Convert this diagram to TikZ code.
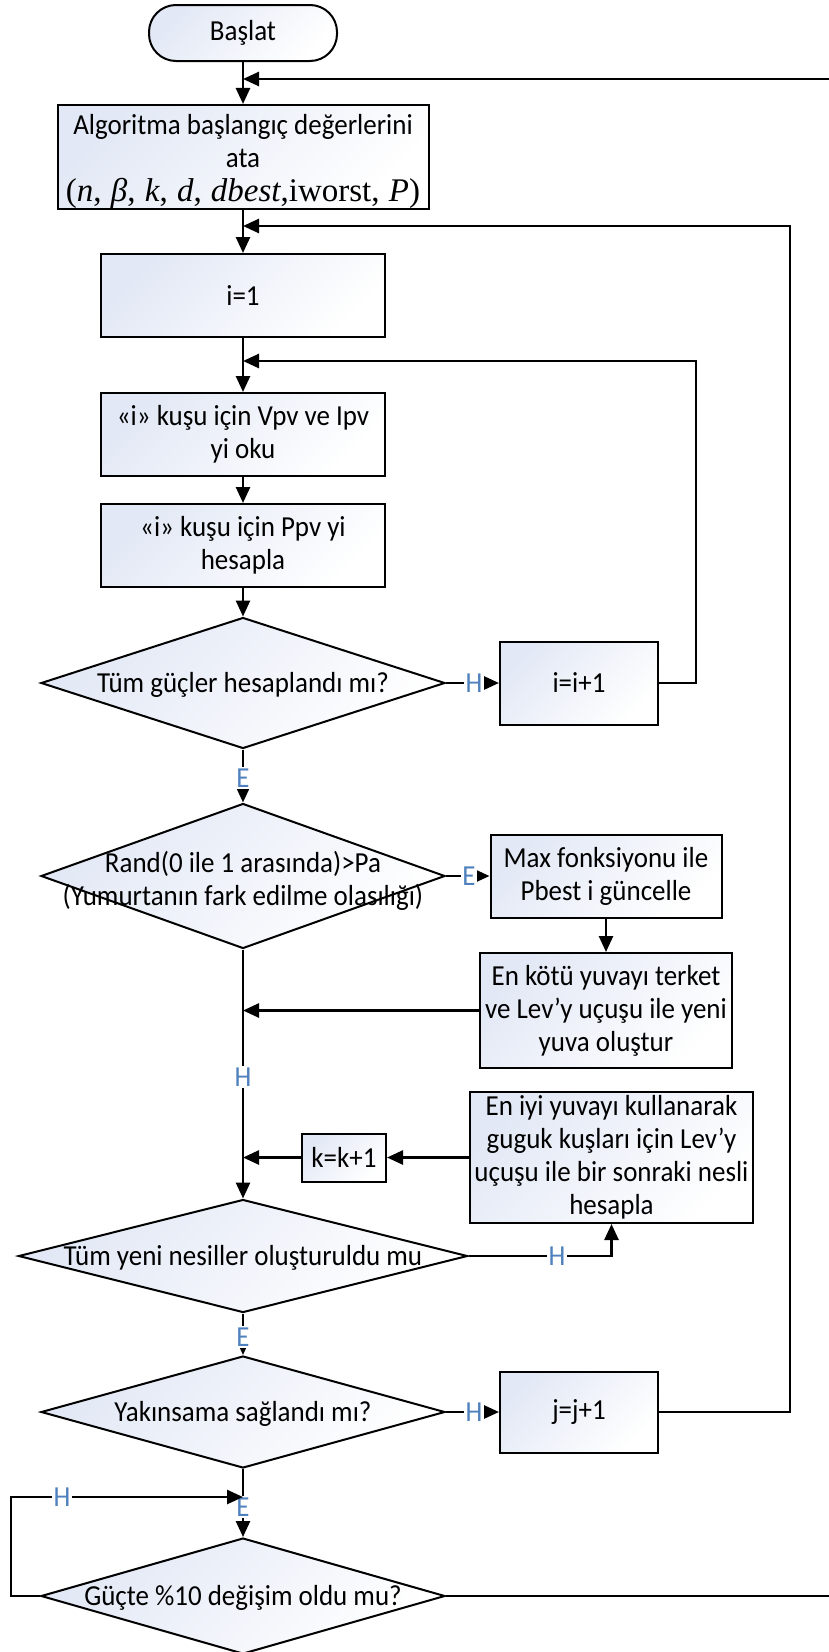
\documentclass[tikz,border=0pt]{standalone}
\usepackage{fontspec}
\setmainfont{Carlito}[FakeStretch=0.93]
\newfontfamily\tms{Liberation Serif}
\usetikzlibrary{arrows.meta,shapes.geometric}
\definecolor{labblue}{RGB}{79,129,189}
\definecolor{boxtint}{RGB}{226,232,245}
\newcommand{\msep}{\hspace{0.28em}}

\begin{document}
\begin{tikzpicture}[x=1pt,y=-1pt,
  every node/.style={font=\fontsize{29}{33}\selectfont},
  tint/.style={top color=boxtint,bottom color=white,shading angle=45},
  proc/.style={draw,line width=2pt,tint,align=center,inner sep=0pt},
  term/.style={proc,rounded corners=27pt},
  dia/.style={draw,line width=2pt,tint,diamond,inner sep=0pt},
  dtext/.style={align=center,inner sep=0pt,yshift=-2pt},
  conn/.style={line width=2.6pt,-{Triangle[length=16pt,width=14pt]}},
  lab/.style={text=labblue,fill=white,inner sep=1.5pt},
]
\useasboundingbox (0,0) rectangle (828,1652);

% ---- main column ----
\node[term,minimum width=188pt,minimum height=56pt] (start) at (243,33) {Başlat};
\node[proc,minimum width=371pt,minimum height=100pt] (init) at (243,157)
  {\rule{0pt}{30pt}Algoritma başlangıç değerlerini\\ata\\[1pt]
   {\tms\fontsize{33}{33}\selectfont(\textit{n},\msep\textit{β},\msep\textit{k},\msep\textit{d},\msep\textit{dbest},iworst,\msep\textit{P})}};
\node[proc,minimum width=284pt,minimum height=83pt] (i1) at (243,295.5) {i=1};
\node[proc,minimum width=284pt,minimum height=83pt] (read) at (243,434.5) {«i» kuşu için Vpv ve Ipv\\yi oku};
\node[proc,minimum width=284pt,minimum height=83pt] (calc) at (243,545.5) {«i» kuşu için Ppv yi\\hesapla};
\node[dia,minimum width=404pt,minimum height=131pt,
  label={[dtext]center:Tüm güçler hesaplandı mı?}] (d1) at (243,683) {};
\node[dia,minimum width=404pt,minimum height=145pt,
  label={[dtext,yshift=-3pt]center:{Rand(0 ile 1 arasında)>Pa\\(Yumurtanın fark edilme olasılığı)}}] (d2) at (243,876) {};
\node[dia,minimum width=449pt,minimum height=113pt,
  label={[dtext]center:Tüm yeni nesiller oluşturuldu mu}] (d3) at (243,1256) {};
\node[dia,minimum width=404pt,minimum height=112pt,
  label={[dtext]center:Yakınsama sağlandı mı?}] (d4) at (243,1412) {};
\node[dia,minimum width=404pt,minimum height=116pt,
  label={[dtext]center:Güçte \%10 değişim oldu mu?}] (d5) at (243,1596) {};

% ---- side boxes ----
\node[proc,minimum width=158pt,minimum height=83pt] (inci) at (579,683) {i=i+1};
\node[proc,minimum width=231pt,minimum height=83pt] (maxb) at (606,876) {Max fonksiyonu ile\\Pbest i güncelle};
\node[proc,minimum width=252pt,minimum height=115pt] (worst) at (606,1010.5)
  {En kötü yuvayı terket\\ve Lev’y uçuşu ile yeni\\yuva oluştur};
\node[proc,minimum width=283pt,minimum height=131pt] (best) at (611.5,1157.5)
  {En iyi yuvayı kullanarak\\guguk kuşları için Lev’y\\uçuşu ile bir sonraki nesli\\hesapla};
\node[proc,minimum width=84pt,minimum height=48pt] (inck) at (344,1157.5) {k=k+1};
\node[proc,minimum width=158pt,minimum height=81pt] (incj) at (579,1412) {j=j+1};

% ---- merge points on the main line ----
\coordinate (m1) at (243,79);
\coordinate (m2) at (243,226);
\coordinate (m3) at (243,361);
\coordinate (mw) at (243,1010.5);
\coordinate (mk) at (243,1157.5);
\coordinate (m4) at (243,1497);

% ---- main flow ----
\draw[conn] (start.south) -- (init.north);
\draw[conn] (init.south) -- (i1.north);
\draw[conn] (i1.south) -- (read.north);
\draw[conn] (read.south) -- (calc.north);
\draw[conn] (calc.south) -- (d1.north);

\draw[conn] (d1.east) -- (inci.west);
\node[lab] (h1) at (474,683) {H};
\draw[conn] (inci.east) -- ++(37,0) |- (m3);

\draw[conn] (d1.south) -- (d2.north);
\node[lab] (e1) at (243,778) {E};

\draw[conn] (d2.east) -- (maxb.west);
\node[lab] (e2) at (469,876) {E};
\draw[conn] (maxb.south) -- (worst.north);
\draw[conn] (worst.west) -- (mw);

\draw[conn] (d2.south) -- (d3.north);
\node[lab] (h2) at (243,1077) {H};

\draw[conn] (d3.east) -| (best.south);
\node[lab] (h3) at (557,1256) {H};
\draw[conn] (best.west) -- (inck.east);
\draw[conn] (inck.west) -- (mk);

\draw[conn] (d3.south) -- (d4.north);
\node[lab] (e3) at (243,1337) {E};

\draw[conn] (d4.east) -- (incj.west);
\node[lab] (h4) at (474,1412) {H};
\draw[conn] (incj.east) -- ++(131,0) |- (m2);

\draw[conn] (d4.south) -- (d5.north);
\node[lab] (e4) at (243,1507) {E};
\draw[conn] (d5.west) -- ++(-29,0) |- (m4);
\node[lab] (h5) at (62,1497) {H};

\draw[conn] (d5.east) -- ++(388,0) |- (m1);
\end{tikzpicture}
\end{document}
